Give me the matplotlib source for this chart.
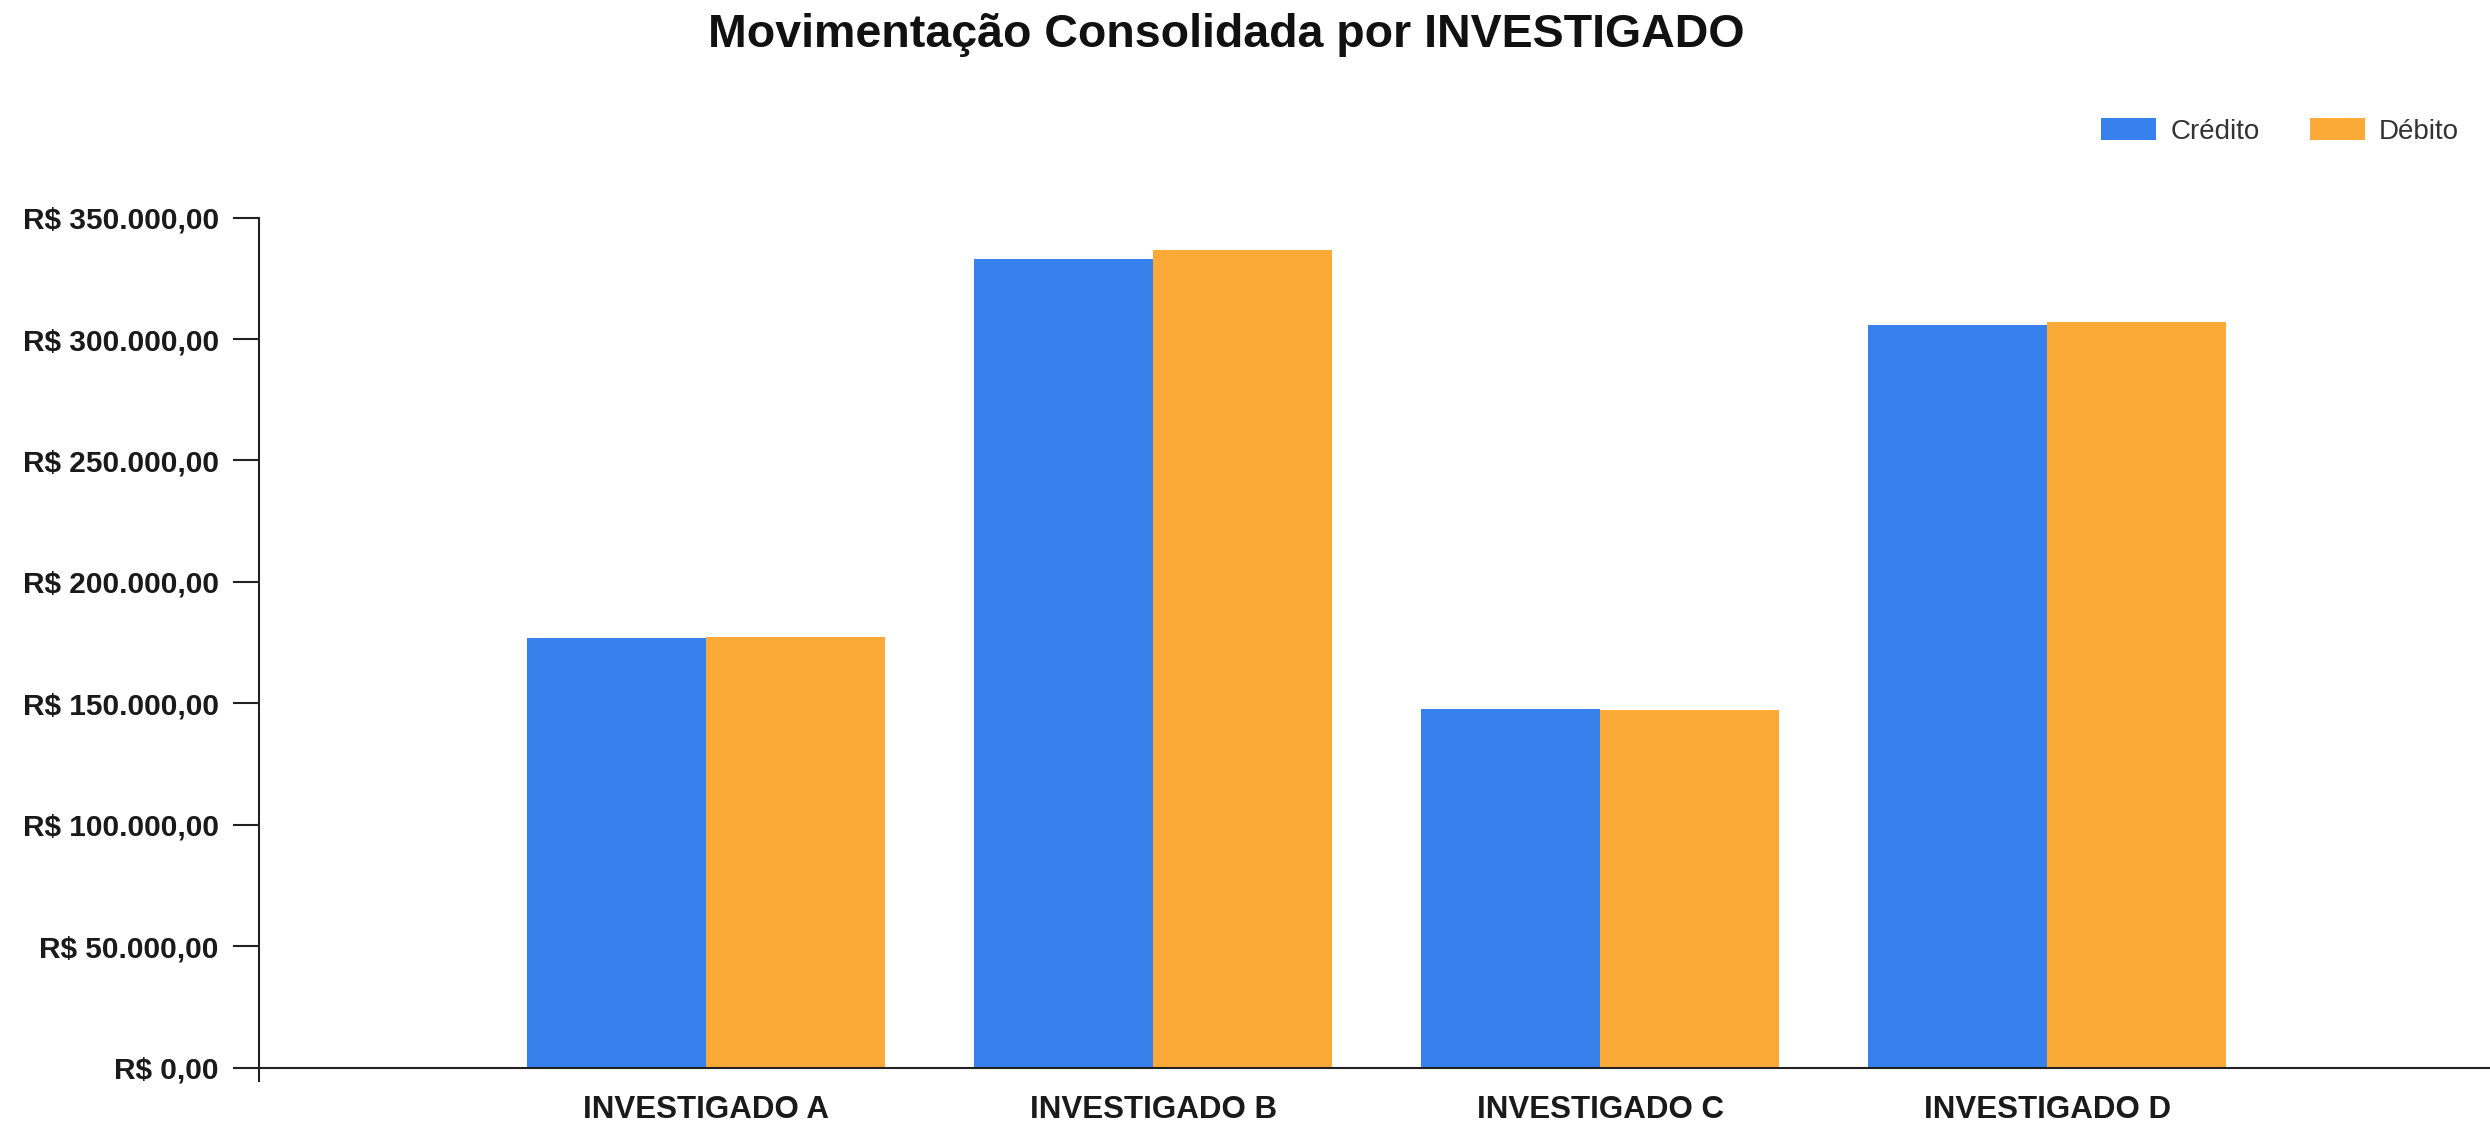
import matplotlib
matplotlib.use("Agg")
import matplotlib.pyplot as plt
from matplotlib.ticker import FuncFormatter, MultipleLocator, FixedLocator
import numpy as np

categories = ["INVESTIGADO A", "INVESTIGADO B", "INVESTIGADO C", "INVESTIGADO D"]
credito = [177000, 333100, 147500, 305900]
debito = [177100, 336500, 147400, 306800]
series_names = ["Crédito", "Débito"]
title = "Movimentação Consolidada por INVESTIGADO"

BLUE = "#3781ED"
ORANGE = "#FCAA37"

plt.rcParams['font.family'] = ['Liberation Sans', 'DejaVu Sans']

fig = plt.figure(figsize=(24.9, 11.28), dpi=100)
ax = fig.add_axes([0.104, 0.0536, 0.8977, 0.7535])

x = np.arange(len(categories))
w = 0.4
ax.bar(x - w / 2, credito, width=w, color=BLUE, label=series_names[0], linewidth=0)
ax.bar(x + w / 2, debito, width=w, color=ORANGE, label=series_names[1], linewidth=0)

ax.set_xlim(-1, 4)
ax.set_ylim(0, 350000)
ax.yaxis.set_major_locator(MultipleLocator(50000))


def brl(v, pos):
    s = f"{v:,.2f}"
    s = s.replace(",", "X").replace(".", ",").replace("X", ".")
    return "R$ " + s


ax.yaxis.set_major_formatter(FuncFormatter(brl))
ax.set_xticks(x)
ax.set_xticklabels(categories)
ax.xaxis.set_minor_locator(FixedLocator([-1]))

for s in ["top", "right"]:
    ax.spines[s].set_visible(False)
for s in ["left", "bottom"]:
    ax.spines[s].set_linewidth(1.5)
    ax.spines[s].set_color("#222222")

ax.tick_params(axis="y", length=19, width=1.5, pad=10, labelsize=21.5, colors="#222222")
ax.tick_params(axis="x", which="major", length=0, pad=20, labelsize=22.5, colors="#222222")
ax.tick_params(axis="x", which="minor", length=10, width=1.5, colors="#222222")
for lab in ax.get_yticklabels() + ax.get_xticklabels():
    lab.set_fontweight("bold")
    lab.set_color("#1a1a1a")

fig.text(0.4925, 0.969, title, ha="center", va="center", fontsize=33.5,
         fontweight="bold", color="#111111")

leg = fig.legend(loc="upper right", bbox_to_anchor=(0.992, 0.905), ncol=2,
                 frameon=False, fontsize=20, handlelength=2.0, handleheight=0.8,
                 handletextpad=0.5, columnspacing=1.8, borderaxespad=0)
for t in leg.get_texts():
    t.set_color("#333333")

fig.savefig("out.png", dpi=100, facecolor="white")
